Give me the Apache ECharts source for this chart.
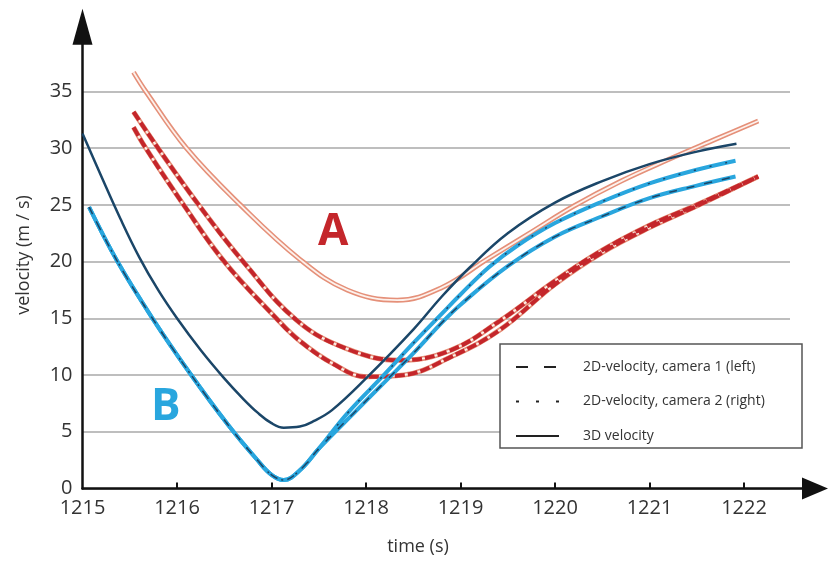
<!DOCTYPE html>
<html>
<head>
<meta charset="utf-8">
<script src="https://cdn.jsdelivr.net/npm/echarts@6/dist/echarts.min.js"></script>
<style>
  html, body { margin: 0; padding: 0; background: #fff; }
  #chart { width: 830px; height: 562px; }
</style>
</head>
<body>
<div id="chart"></div>
<script>
// tick labels
const timeTicks = [1215, 1216, 1217, 1218, 1219, 1220, 1221, 1222]

// A, 3D velocity (salmon double line)
const a3dTime = [1215.54, 1215.67, 1216.1, 1216.67, 1217.3, 1217.8, 1218.33, 1218.8, 1219.28, 1219.75, 1220.2, 1220.7, 1221.2, 1221.7, 1222.15]
const a3dVel = [36.7, 35.0, 30.0, 25.0, 20.2, 17.5, 16.6, 17.7, 20.2, 22.6, 24.9, 27.1, 29.0, 30.8, 32.4]
// A, camera 1 (upper red)
const aCam1Time = [1215.54, 1215.8, 1216.23, 1216.7, 1217.27, 1217.8, 1218.36, 1218.9, 1219.42, 1220.0, 1220.5, 1221.0, 1221.5, 1222.15]
const aCam1Vel = [33.2, 30.0, 25.0, 20.0, 14.8, 12.3, 11.3, 12.2, 14.8, 18.3, 21.0, 23.2, 25.0, 27.5]
// A, camera 2 (lower red)
const aCam2Time = [1215.54, 1215.67, 1216.07, 1216.5, 1217.05, 1217.3, 1217.65, 1218.0, 1218.4, 1218.9, 1219.42, 1220.0, 1220.5, 1221.0, 1221.5, 1222.15]
const aCam2Vel = [31.85, 30.0, 25.0, 20.0, 15.0, 13.0, 11.0, 9.85, 10.0, 11.6, 14.0, 18.0, 20.8, 23.0, 24.9, 27.5]

// B, 3D velocity (navy)
const b3dTime = [1215.0, 1215.2, 1215.4, 1215.6, 1215.8, 1216.0, 1216.25, 1216.5, 1216.7, 1216.85, 1217.0, 1217.13, 1217.3, 1217.45, 1217.64, 1218.0, 1218.5, 1218.8, 1219.1, 1219.5, 1220.0, 1220.5, 1221.0, 1221.5, 1221.92]
const b3dVel = [31.3, 27.5, 23.8, 20.4, 17.5, 15.0, 12.2, 9.7, 7.9, 6.7, 5.75, 5.35, 5.45, 5.95, 6.9, 9.7, 14.0, 16.9, 19.5, 22.5, 25.2, 27.1, 28.6, 29.7, 30.4]
// B, camera 1 (cyan, lower at the end)
const bCam1Time = [1215.07, 1215.37, 1215.74, 1216.15, 1216.55, 1216.85, 1217.0, 1217.13, 1217.3, 1217.5, 1217.89, 1218.2, 1218.5, 1218.79, 1219.0, 1219.5, 1220.0, 1220.5, 1221.0, 1221.5, 1221.91]
const bCam1Vel = [24.8, 20.0, 15.0, 10.0, 5.5, 2.5, 1.2, 0.75, 1.6, 3.5, 6.8, 9.4, 11.9, 14.5, 16.2, 19.6, 22.2, 24.0, 25.6, 26.7, 27.5]
// B, camera 2 (cyan, middle at the end)
const bCam2Time = [1215.07, 1215.37, 1215.74, 1216.15, 1216.55, 1216.85, 1217.0, 1217.13, 1217.3, 1217.5, 1217.8, 1218.2, 1218.5, 1218.79, 1219.0, 1219.3, 1219.6, 1220.0, 1220.5, 1221.0, 1221.5, 1221.91]
const bCam2Vel = [24.8, 20.0, 15.0, 10.0, 5.5, 2.5, 1.2, 0.75, 1.6, 3.5, 6.6, 10.1, 12.8, 15.3, 17.1, 19.5, 21.4, 23.4, 25.3, 26.9, 28.1, 28.9]

const legendNames = ['2D-velocity, camera 1 (left)', '2D-velocity, camera 2 (right)', '3D velocity']

const pairs = (t, v) => t.map((x, i) => [x, v[i]])

const FONT = '"Open Sans", "Noto Sans", sans-serif'
const SALMON = '#e59079'
const RED = '#c4262b'
const NAVY = '#1b4668'
const CYAN = '#29a6de'

let line = (data, color, width, type, z) => ({
  type: 'line',
  xAxisIndex: 1,
  yAxisIndex: 1,
  data: data,
  smooth: 0.4,
  symbol: 'none',
  silent: true,
  z: z,
  lineStyle: { color: color, width: width, type: type || 'solid', cap: 'butt' }
})

let legendSample = (name, width, type) => ({
  name: name,
  type: 'line',
  xAxisIndex: 1,
  yAxisIndex: 1,
  data: [],
  symbol: 'none',
  lineStyle: { color: '#222', width: width, type: type },
  itemStyle: { color: 'rgba(0,0,0,0)', borderWidth: 0 }
})

let chart = echarts.init(document.getElementById('chart'), null, { renderer: 'canvas' })

let a3d = pairs(a3dTime, a3dVel)
let aCam1 = pairs(aCam1Time, aCam1Vel)
let aCam2 = pairs(aCam2Time, aCam2Vel)
let b3d = pairs(b3dTime, b3dVel)
let bCam1 = pairs(bCam1Time, bCam1Vel)
let bCam2 = pairs(bCam2Time, bCam2Vel)

let option = {
  animation: false,
  backgroundColor: '#fff',
  textStyle: { fontFamily: FONT },
  grid: [
    // grid lines + y labels
    { left: 82.5, right: 40, top: 91.5, bottom: 73.6 },
    // data + arrowed axes
    { left: 82.5, right: 15, top: 34.8, bottom: 73.6 }
  ],
  xAxis: [
    { gridIndex: 0, type: 'value', min: 1215, max: 1222.487, show: false },
    {
      gridIndex: 1,
      type: 'value',
      min: 1215,
      max: 1222.751,
      axisLine: {
        show: true,
        symbol: ['none', 'triangle'],
        symbolSize: [22, 26],
        lineStyle: { color: '#111', width: 2.5 }
      },
      axisTick: {
        show: true,
        inside: true,
        length: 6,
        customValues: timeTicks.slice(1),
        lineStyle: { color: '#111', width: 2 }
      },
      axisLabel: {
        customValues: timeTicks,
        formatter: (v) => String(v),
        color: '#333',
        fontSize: 20,
        margin: 10,
        fontFamily: FONT
      },
      splitLine: { show: false }
    }
  ],
  yAxis: [
    {
      gridIndex: 0,
      type: 'value',
      min: 0,
      max: 35,
      interval: 5,
      axisLine: { show: false },
      axisTick: { show: false },
      axisLabel: { color: '#333', fontSize: 20, margin: 10, fontFamily: FONT },
      splitLine: { show: true, lineStyle: { color: '#a8a8a8', width: 1.5 } }
    },
    {
      gridIndex: 1,
      type: 'value',
      min: 0,
      max: 40,
      axisLine: {
        show: true,
        symbol: ['none', 'triangle'],
        symbolSize: [20, 36],
        symbolOffset: [0, 8],
        lineStyle: { color: '#111', width: 2.5 }
      },
      axisTick: { show: false },
      axisLabel: { show: false },
      splitLine: { show: false }
    }
  ],
  legend: {
    orient: 'vertical',
    left: 515,
    top: 360,
    padding: 0,
    itemWidth: 43,
    itemHeight: 14,
    itemGap: 20.5,
    z: 10,
    selectedMode: false,
    itemStyle: { color: 'rgba(0,0,0,0)', borderWidth: 0 },
    textStyle: { color: '#333', fontSize: 14, fontFamily: FONT, padding: [0, 0, 0, 19] },
    data: legendNames
  },
  graphic: [
    {
      type: 'rect',
      z: 5,
      shape: { x: 500, y: 344, width: 302, height: 104 },
      style: { fill: '#fff', stroke: '#555', lineWidth: 1.5 }
    },
    {
      type: 'text',
      left: 318,
      top: 210,
      z: 5,
      style: { text: 'A', fill: RED, font: 'bold 44px ' + FONT }
    },
    {
      type: 'text',
      left: 151,
      top: 385,
      z: 5,
      style: { text: 'B', fill: CYAN, font: 'bold 44px ' + FONT }
    },
    {
      type: 'text',
      x: 418,
      y: 547,
      z: 5,
      style: { text: 'time (s)', fill: '#333', font: '18px ' + FONT, align: 'center', verticalAlign: 'middle' }
    },
    {
      type: 'text',
      x: 24,
      y: 255,
      rotation: Math.PI / 2,
      z: 5,
      style: { text: 'velocity (m / s)', fill: '#333', font: '18px ' + FONT, align: 'center', verticalAlign: 'middle' }
    }
  ],
  series: [
    // A group
    line(a3d, SALMON, 5, 'solid', 2),
    line(a3d, '#fdf1ec', 1.8, 'solid', 3),
    line(aCam1, SALMON, 5, 'solid', 2),
    line(aCam1, '#fdf1ec', 1.8, 'solid', 3),
    line(aCam1, RED, 4, [10, 3], 4),
    line(aCam2, SALMON, 5, 'solid', 2),
    line(aCam2, '#fdf1ec', 1.8, 'solid', 3),
    line(aCam2, RED, 4, [10, 3], 4),
    // B group
    line(b3d, NAVY, 2.5, 'solid', 5),
    line(bCam1, CYAN, 4, 'solid', 5),
    line(bCam1, NAVY, 1.5, [8, 10], 6),
    line(bCam2, CYAN, 4, 'solid', 5),
    line(bCam2, NAVY, 1.5, [2, 14], 6),
    // legend samples
    legendSample(legendNames[0], 2.5, [12, 16]),
    legendSample(legendNames[1], 2.5, [3, 17]),
    legendSample(legendNames[2], 2, 'solid')
  ]
}
chart.setOption(option)
</script>
</body>
</html>
